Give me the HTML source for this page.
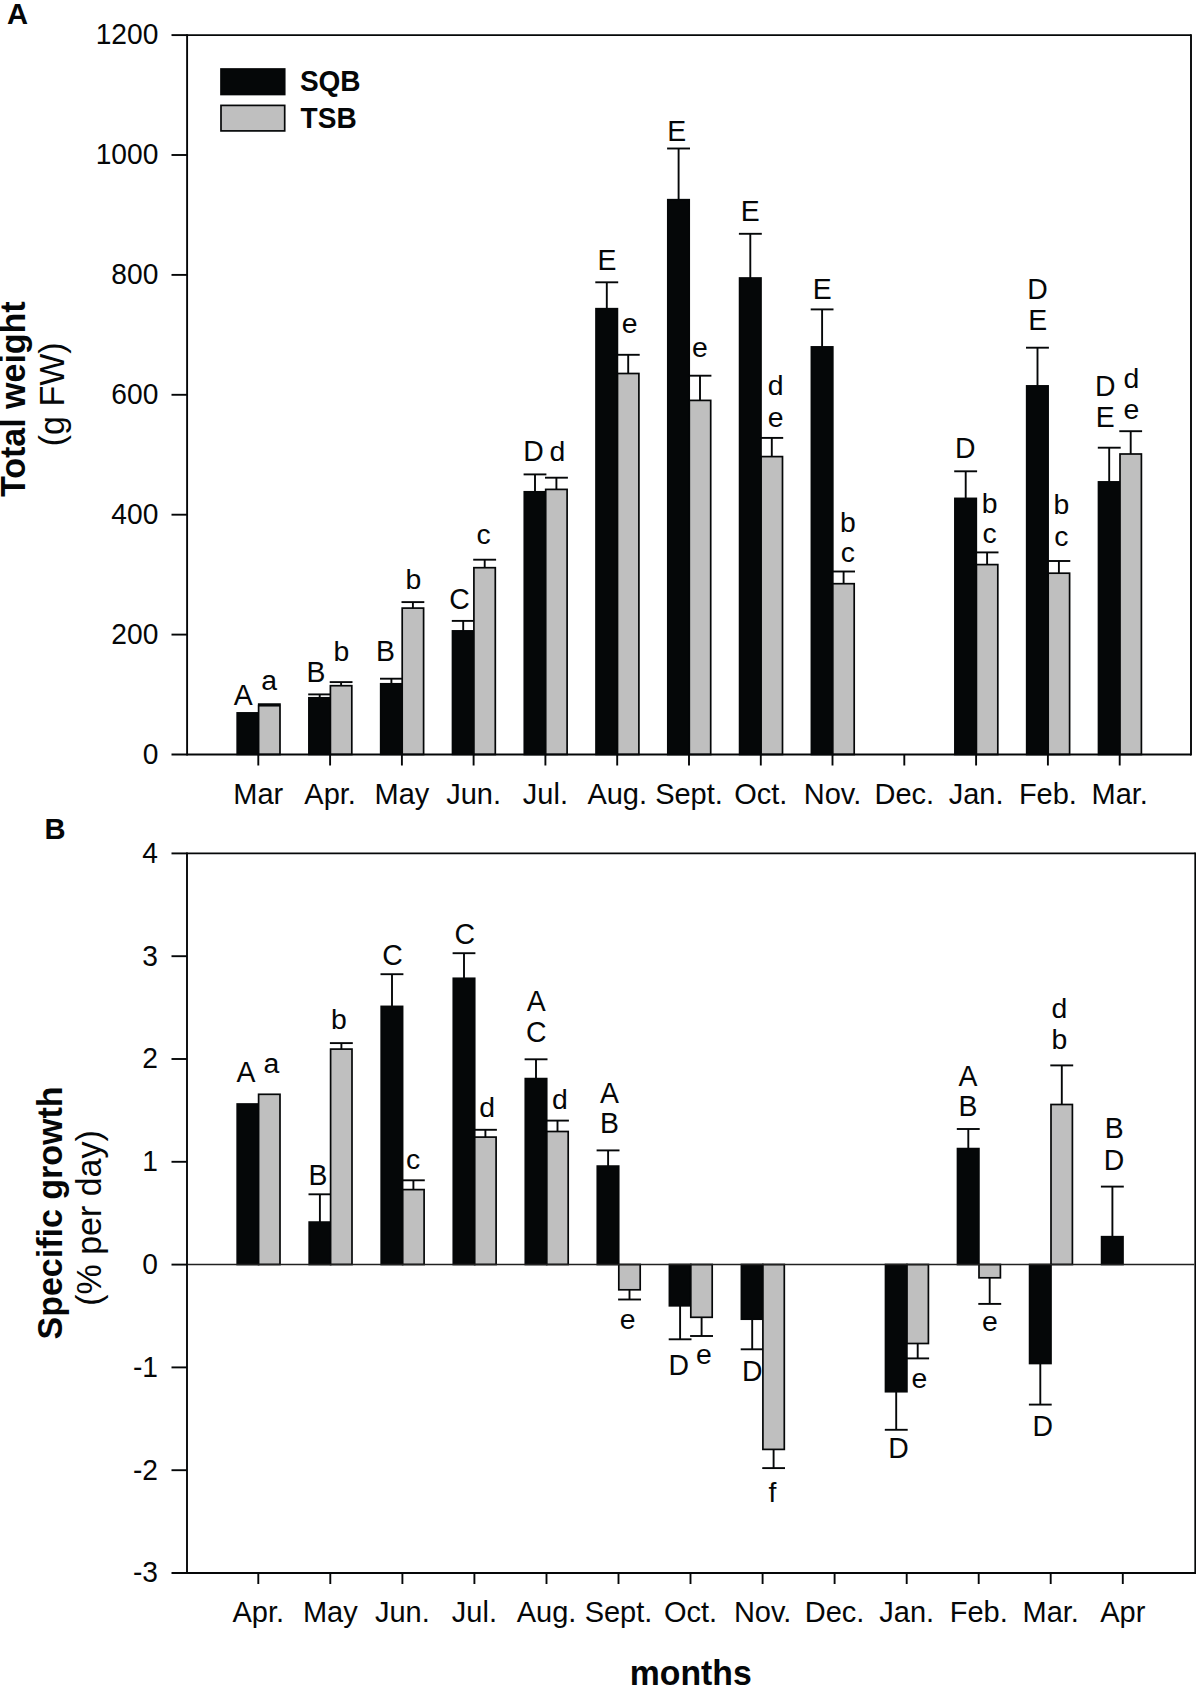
<!DOCTYPE html>
<html><head><meta charset="utf-8"><title>Figure</title>
<style>html,body{margin:0;padding:0;background:#fff}svg{display:block}text{font-family:"Liberation Sans",Arial,Helvetica,sans-serif;fill:#050708}</style>
</head><body>
<svg width="1196" height="1686" viewBox="0 0 1196 1686">
<rect x="0" y="0" width="1196" height="1686" fill="#ffffff"/>
<rect x="237.2" y="712.9" width="21.4" height="41.5" fill="#050708" stroke="#050708" stroke-width="1.7"/>
<line x1="269.3" y1="705.7" x2="269.3" y2="704.2" stroke="#050708" stroke-width="1.9"/>
<line x1="257.9" y1="704.2" x2="280.8" y2="704.2" stroke="#050708" stroke-width="1.9"/>
<rect x="258.6" y="705.7" width="21.4" height="48.8" fill="#bfbfbf" stroke="#050708" stroke-width="1.7"/>
<line x1="319.7" y1="697.8" x2="319.7" y2="694.4" stroke="#050708" stroke-width="1.9"/>
<line x1="308.2" y1="694.4" x2="331.1" y2="694.4" stroke="#050708" stroke-width="1.9"/>
<rect x="308.9" y="697.8" width="21.4" height="56.6" fill="#050708" stroke="#050708" stroke-width="1.7"/>
<line x1="341.1" y1="685.7" x2="341.1" y2="682.1" stroke="#050708" stroke-width="1.9"/>
<line x1="329.7" y1="682.1" x2="352.5" y2="682.1" stroke="#050708" stroke-width="1.9"/>
<rect x="330.4" y="685.7" width="21.4" height="68.8" fill="#bfbfbf" stroke="#050708" stroke-width="1.7"/>
<line x1="391.4" y1="683.8" x2="391.4" y2="678.7" stroke="#050708" stroke-width="1.9"/>
<line x1="380.0" y1="678.7" x2="402.9" y2="678.7" stroke="#050708" stroke-width="1.9"/>
<rect x="380.7" y="683.8" width="21.4" height="70.6" fill="#050708" stroke="#050708" stroke-width="1.7"/>
<line x1="412.9" y1="608.1" x2="412.9" y2="602.1" stroke="#050708" stroke-width="1.9"/>
<line x1="401.5" y1="602.1" x2="424.3" y2="602.1" stroke="#050708" stroke-width="1.9"/>
<rect x="402.2" y="608.1" width="21.4" height="146.4" fill="#bfbfbf" stroke="#050708" stroke-width="1.7"/>
<line x1="463.2" y1="630.9" x2="463.2" y2="620.9" stroke="#050708" stroke-width="1.9"/>
<line x1="451.8" y1="620.9" x2="474.6" y2="620.9" stroke="#050708" stroke-width="1.9"/>
<rect x="452.5" y="630.9" width="21.4" height="123.5" fill="#050708" stroke="#050708" stroke-width="1.7"/>
<line x1="484.7" y1="567.7" x2="484.7" y2="559.7" stroke="#050708" stroke-width="1.9"/>
<line x1="473.2" y1="559.7" x2="496.1" y2="559.7" stroke="#050708" stroke-width="1.9"/>
<rect x="473.9" y="567.7" width="21.4" height="186.8" fill="#bfbfbf" stroke="#050708" stroke-width="1.7"/>
<line x1="535.0" y1="491.8" x2="535.0" y2="474.4" stroke="#050708" stroke-width="1.9"/>
<line x1="523.6" y1="474.4" x2="546.4" y2="474.4" stroke="#050708" stroke-width="1.9"/>
<rect x="524.3" y="491.8" width="21.4" height="262.7" fill="#050708" stroke="#050708" stroke-width="1.7"/>
<line x1="556.4" y1="489.4" x2="556.4" y2="477.7" stroke="#050708" stroke-width="1.9"/>
<line x1="545.0" y1="477.7" x2="567.9" y2="477.7" stroke="#050708" stroke-width="1.9"/>
<rect x="545.7" y="489.4" width="21.4" height="265.1" fill="#bfbfbf" stroke="#050708" stroke-width="1.7"/>
<line x1="606.8" y1="308.7" x2="606.8" y2="282.3" stroke="#050708" stroke-width="1.9"/>
<line x1="595.3" y1="282.3" x2="618.2" y2="282.3" stroke="#050708" stroke-width="1.9"/>
<rect x="596.0" y="308.7" width="21.4" height="445.8" fill="#050708" stroke="#050708" stroke-width="1.7"/>
<line x1="628.2" y1="373.5" x2="628.2" y2="354.8" stroke="#050708" stroke-width="1.9"/>
<line x1="616.8" y1="354.8" x2="639.7" y2="354.8" stroke="#050708" stroke-width="1.9"/>
<rect x="617.5" y="373.5" width="21.4" height="381.0" fill="#bfbfbf" stroke="#050708" stroke-width="1.7"/>
<line x1="678.6" y1="199.7" x2="678.6" y2="148.5" stroke="#050708" stroke-width="1.9"/>
<line x1="667.1" y1="148.5" x2="690.0" y2="148.5" stroke="#050708" stroke-width="1.9"/>
<rect x="667.8" y="199.7" width="21.4" height="554.8" fill="#050708" stroke="#050708" stroke-width="1.7"/>
<line x1="700.0" y1="400.4" x2="700.0" y2="375.7" stroke="#050708" stroke-width="1.9"/>
<line x1="688.6" y1="375.7" x2="711.4" y2="375.7" stroke="#050708" stroke-width="1.9"/>
<rect x="689.3" y="400.4" width="21.4" height="354.1" fill="#bfbfbf" stroke="#050708" stroke-width="1.7"/>
<line x1="750.3" y1="278.0" x2="750.3" y2="233.8" stroke="#050708" stroke-width="1.9"/>
<line x1="738.9" y1="233.8" x2="761.8" y2="233.8" stroke="#050708" stroke-width="1.9"/>
<rect x="739.6" y="278.0" width="21.4" height="476.5" fill="#050708" stroke="#050708" stroke-width="1.7"/>
<line x1="771.8" y1="456.6" x2="771.8" y2="437.9" stroke="#050708" stroke-width="1.9"/>
<line x1="760.4" y1="437.9" x2="783.2" y2="437.9" stroke="#050708" stroke-width="1.9"/>
<rect x="761.1" y="456.6" width="21.4" height="297.9" fill="#bfbfbf" stroke="#050708" stroke-width="1.7"/>
<line x1="822.1" y1="346.9" x2="822.1" y2="309.4" stroke="#050708" stroke-width="1.9"/>
<line x1="810.7" y1="309.4" x2="833.5" y2="309.4" stroke="#050708" stroke-width="1.9"/>
<rect x="811.4" y="346.9" width="21.4" height="407.6" fill="#050708" stroke="#050708" stroke-width="1.7"/>
<line x1="843.6" y1="583.7" x2="843.6" y2="571.5" stroke="#050708" stroke-width="1.9"/>
<line x1="832.1" y1="571.5" x2="855.0" y2="571.5" stroke="#050708" stroke-width="1.9"/>
<rect x="832.8" y="583.7" width="21.4" height="170.8" fill="#bfbfbf" stroke="#050708" stroke-width="1.7"/>
<line x1="965.7" y1="498.4" x2="965.7" y2="471.3" stroke="#050708" stroke-width="1.9"/>
<line x1="954.2" y1="471.3" x2="977.1" y2="471.3" stroke="#050708" stroke-width="1.9"/>
<rect x="954.9" y="498.4" width="21.4" height="256.1" fill="#050708" stroke="#050708" stroke-width="1.7"/>
<line x1="987.1" y1="564.6" x2="987.1" y2="552.4" stroke="#050708" stroke-width="1.9"/>
<line x1="975.7" y1="552.4" x2="998.5" y2="552.4" stroke="#050708" stroke-width="1.9"/>
<rect x="976.4" y="564.6" width="21.4" height="189.9" fill="#bfbfbf" stroke="#050708" stroke-width="1.7"/>
<line x1="1037.5" y1="385.9" x2="1037.5" y2="347.7" stroke="#050708" stroke-width="1.9"/>
<line x1="1026.0" y1="347.7" x2="1048.9" y2="347.7" stroke="#050708" stroke-width="1.9"/>
<rect x="1026.7" y="385.9" width="21.4" height="368.6" fill="#050708" stroke="#050708" stroke-width="1.7"/>
<line x1="1058.9" y1="573.2" x2="1058.9" y2="561.0" stroke="#050708" stroke-width="1.9"/>
<line x1="1047.5" y1="561.0" x2="1070.3" y2="561.0" stroke="#050708" stroke-width="1.9"/>
<rect x="1048.2" y="573.2" width="21.4" height="181.3" fill="#bfbfbf" stroke="#050708" stroke-width="1.7"/>
<line x1="1109.2" y1="481.9" x2="1109.2" y2="447.7" stroke="#050708" stroke-width="1.9"/>
<line x1="1097.8" y1="447.7" x2="1120.7" y2="447.7" stroke="#050708" stroke-width="1.9"/>
<rect x="1098.5" y="481.9" width="21.4" height="272.6" fill="#050708" stroke="#050708" stroke-width="1.7"/>
<line x1="1130.7" y1="454.0" x2="1130.7" y2="431.2" stroke="#050708" stroke-width="1.9"/>
<line x1="1119.3" y1="431.2" x2="1142.1" y2="431.2" stroke="#050708" stroke-width="1.9"/>
<rect x="1120.0" y="454.0" width="21.4" height="300.5" fill="#bfbfbf" stroke="#050708" stroke-width="1.7"/>
<line x1="187.1" y1="34.2" x2="187.1" y2="755.4" stroke="#050708" stroke-width="1.9"/>
<line x1="187.1" y1="35.1" x2="1191.0" y2="35.1" stroke="#050708" stroke-width="1.9"/>
<line x1="1191.0" y1="34.2" x2="1191.0" y2="755.4" stroke="#050708" stroke-width="1.9"/>
<line x1="171.5" y1="754.5" x2="1191.0" y2="754.5" stroke="#050708" stroke-width="1.9"/>
<text transform="translate(158.3 763.8) scale(0.955 1)" font-size="29.5" text-anchor="end">0</text>
<line x1="171.5" y1="634.6" x2="187.1" y2="634.6" stroke="#050708" stroke-width="1.9"/>
<text transform="translate(158.3 643.9) scale(0.955 1)" font-size="29.5" text-anchor="end">200</text>
<line x1="171.5" y1="514.7" x2="187.1" y2="514.7" stroke="#050708" stroke-width="1.9"/>
<text transform="translate(158.3 524.0) scale(0.955 1)" font-size="29.5" text-anchor="end">400</text>
<line x1="171.5" y1="394.8" x2="187.1" y2="394.8" stroke="#050708" stroke-width="1.9"/>
<text transform="translate(158.3 404.1) scale(0.955 1)" font-size="29.5" text-anchor="end">600</text>
<line x1="171.5" y1="274.9" x2="187.1" y2="274.9" stroke="#050708" stroke-width="1.9"/>
<text transform="translate(158.3 284.2) scale(0.955 1)" font-size="29.5" text-anchor="end">800</text>
<line x1="171.5" y1="155.0" x2="187.1" y2="155.0" stroke="#050708" stroke-width="1.9"/>
<text transform="translate(158.3 164.3) scale(0.955 1)" font-size="29.5" text-anchor="end">1000</text>
<line x1="171.5" y1="35.1" x2="187.1" y2="35.1" stroke="#050708" stroke-width="1.9"/>
<text transform="translate(158.3 44.4) scale(0.955 1)" font-size="29.5" text-anchor="end">1200</text>
<line x1="258.3" y1="754.5" x2="258.3" y2="765.5" stroke="#050708" stroke-width="1.9"/>
<text transform="translate(258.3 803.6) scale(0.96 1)" font-size="30.2" text-anchor="middle">Mar</text>
<line x1="330.1" y1="754.5" x2="330.1" y2="765.5" stroke="#050708" stroke-width="1.9"/>
<text transform="translate(330.1 803.6) scale(0.96 1)" font-size="30.2" text-anchor="middle">Apr.</text>
<line x1="401.9" y1="754.5" x2="401.9" y2="765.5" stroke="#050708" stroke-width="1.9"/>
<text transform="translate(401.9 803.6) scale(0.96 1)" font-size="30.2" text-anchor="middle">May</text>
<line x1="473.6" y1="754.5" x2="473.6" y2="765.5" stroke="#050708" stroke-width="1.9"/>
<text transform="translate(473.6 803.6) scale(0.96 1)" font-size="30.2" text-anchor="middle">Jun.</text>
<line x1="545.4" y1="754.5" x2="545.4" y2="765.5" stroke="#050708" stroke-width="1.9"/>
<text transform="translate(545.4 803.6) scale(0.96 1)" font-size="30.2" text-anchor="middle">Jul.</text>
<line x1="617.2" y1="754.5" x2="617.2" y2="765.5" stroke="#050708" stroke-width="1.9"/>
<text transform="translate(617.2 803.6) scale(0.96 1)" font-size="30.2" text-anchor="middle">Aug.</text>
<line x1="689.0" y1="754.5" x2="689.0" y2="765.5" stroke="#050708" stroke-width="1.9"/>
<text transform="translate(689.0 803.6) scale(0.96 1)" font-size="30.2" text-anchor="middle">Sept.</text>
<line x1="760.8" y1="754.5" x2="760.8" y2="765.5" stroke="#050708" stroke-width="1.9"/>
<text transform="translate(760.8 803.6) scale(0.96 1)" font-size="30.2" text-anchor="middle">Oct.</text>
<line x1="832.5" y1="754.5" x2="832.5" y2="765.5" stroke="#050708" stroke-width="1.9"/>
<text transform="translate(832.5 803.6) scale(0.96 1)" font-size="30.2" text-anchor="middle">Nov.</text>
<line x1="904.3" y1="754.5" x2="904.3" y2="765.5" stroke="#050708" stroke-width="1.9"/>
<text transform="translate(904.3 803.6) scale(0.96 1)" font-size="30.2" text-anchor="middle">Dec.</text>
<line x1="976.1" y1="754.5" x2="976.1" y2="765.5" stroke="#050708" stroke-width="1.9"/>
<text transform="translate(976.1 803.6) scale(0.96 1)" font-size="30.2" text-anchor="middle">Jan.</text>
<line x1="1047.9" y1="754.5" x2="1047.9" y2="765.5" stroke="#050708" stroke-width="1.9"/>
<text transform="translate(1047.9 803.6) scale(0.96 1)" font-size="30.2" text-anchor="middle">Feb.</text>
<line x1="1119.7" y1="754.5" x2="1119.7" y2="765.5" stroke="#050708" stroke-width="1.9"/>
<text transform="translate(1119.7 803.6) scale(0.96 1)" font-size="30.2" text-anchor="middle">Mar.</text>
<text transform="translate(243.1 704.8) scale(0.96 1)" font-size="29.6" text-anchor="middle">A</text>
<text x="269.2" y="690.4" font-size="28.4" text-anchor="middle">a</text>
<text transform="translate(316.0 682.0) scale(0.96 1)" font-size="29.6" text-anchor="middle">B</text>
<text x="341.5" y="661.0" font-size="28.4" text-anchor="middle">b</text>
<text transform="translate(385.4 660.5) scale(0.96 1)" font-size="29.6" text-anchor="middle">B</text>
<text x="413.5" y="589.0" font-size="28.4" text-anchor="middle">b</text>
<text transform="translate(459.4 608.6) scale(0.96 1)" font-size="29.6" text-anchor="middle">C</text>
<text x="483.5" y="543.9" font-size="28.4" text-anchor="middle">c</text>
<text transform="translate(533.5 461.0) scale(0.96 1)" font-size="29.6" text-anchor="middle">D</text>
<text x="557.3" y="461.0" font-size="28.4" text-anchor="middle">d</text>
<text transform="translate(606.9 269.9) scale(0.96 1)" font-size="29.6" text-anchor="middle">E</text>
<text x="629.6" y="333.4" font-size="28.4" text-anchor="middle">e</text>
<text transform="translate(676.7 140.8) scale(0.96 1)" font-size="29.6" text-anchor="middle">E</text>
<text x="699.8" y="356.9" font-size="28.4" text-anchor="middle">e</text>
<text transform="translate(750.3 221.2) scale(0.96 1)" font-size="29.6" text-anchor="middle">E</text>
<text x="775.6" y="395.1" font-size="28.4" text-anchor="middle">d</text>
<text x="775.6" y="426.9" font-size="28.4" text-anchor="middle">e</text>
<text transform="translate(822.2 298.7) scale(0.96 1)" font-size="29.6" text-anchor="middle">E</text>
<text x="847.9" y="531.8" font-size="28.4" text-anchor="middle">b</text>
<text x="847.9" y="562.3" font-size="28.4" text-anchor="middle">c</text>
<text transform="translate(965.2 458.0) scale(0.96 1)" font-size="29.6" text-anchor="middle">D</text>
<text x="989.7" y="512.6" font-size="28.4" text-anchor="middle">b</text>
<text x="989.7" y="543.2" font-size="28.4" text-anchor="middle">c</text>
<text transform="translate(1037.6 299.1) scale(0.96 1)" font-size="29.6" text-anchor="middle">D</text>
<text transform="translate(1037.6 330.2) scale(0.96 1)" font-size="29.6" text-anchor="middle">E</text>
<text x="1061.3" y="514.3" font-size="28.4" text-anchor="middle">b</text>
<text x="1061.3" y="546.0" font-size="28.4" text-anchor="middle">c</text>
<text transform="translate(1105.3 395.8) scale(0.96 1)" font-size="29.6" text-anchor="middle">D</text>
<text transform="translate(1105.3 426.6) scale(0.96 1)" font-size="29.6" text-anchor="middle">E</text>
<text x="1131.5" y="387.5" font-size="28.4" text-anchor="middle">d</text>
<text x="1131.5" y="418.9" font-size="28.4" text-anchor="middle">e</text>
<rect x="221.0" y="69.0" width="63.7" height="25.5" fill="#050708" stroke="#050708" stroke-width="1.7"/>
<rect x="221.0" y="105.4" width="63.7" height="25.5" fill="#bfbfbf" stroke="#050708" stroke-width="1.7"/>
<text transform="translate(299.9 90.6) scale(0.943 1)" font-size="29.7" text-anchor="start" font-weight="bold">SQB</text>
<text transform="translate(300.6 128.2) scale(0.943 1)" font-size="29.7" text-anchor="start" font-weight="bold">TSB</text>
<text transform="translate(25.1 399.2) rotate(-90) scale(1 1.045)" font-size="34" text-anchor="middle" font-weight="bold">Total weight</text>
<text transform="translate(63.5 394.3) rotate(-90) scale(1 1.045)" font-size="34" text-anchor="middle">(g FW)</text>
<text transform="translate(6.9 24.2) scale(0.96 1)" font-size="30.4" text-anchor="start" font-weight="bold">A</text>
<rect x="237.2" y="1104.0" width="21.4" height="160.5" fill="#050708" stroke="#050708" stroke-width="1.7"/>
<rect x="258.6" y="1094.3" width="21.4" height="170.2" fill="#bfbfbf" stroke="#050708" stroke-width="1.7"/>
<line x1="319.9" y1="1222.1" x2="319.9" y2="1194.3" stroke="#050708" stroke-width="1.9"/>
<line x1="308.5" y1="1194.3" x2="331.3" y2="1194.3" stroke="#050708" stroke-width="1.9"/>
<rect x="309.2" y="1222.1" width="21.4" height="42.4" fill="#050708" stroke="#050708" stroke-width="1.7"/>
<line x1="341.4" y1="1049.1" x2="341.4" y2="1043.1" stroke="#050708" stroke-width="1.9"/>
<line x1="329.9" y1="1043.1" x2="352.8" y2="1043.1" stroke="#050708" stroke-width="1.9"/>
<rect x="330.6" y="1049.1" width="21.4" height="215.4" fill="#bfbfbf" stroke="#050708" stroke-width="1.7"/>
<line x1="392.0" y1="1006.4" x2="392.0" y2="974.2" stroke="#050708" stroke-width="1.9"/>
<line x1="380.5" y1="974.2" x2="403.4" y2="974.2" stroke="#050708" stroke-width="1.9"/>
<rect x="381.2" y="1006.4" width="21.4" height="258.1" fill="#050708" stroke="#050708" stroke-width="1.7"/>
<line x1="413.4" y1="1189.6" x2="413.4" y2="1180.3" stroke="#050708" stroke-width="1.9"/>
<line x1="402.0" y1="1180.3" x2="424.8" y2="1180.3" stroke="#050708" stroke-width="1.9"/>
<rect x="402.7" y="1189.6" width="21.4" height="74.9" fill="#bfbfbf" stroke="#050708" stroke-width="1.7"/>
<line x1="464.0" y1="978.3" x2="464.0" y2="953.2" stroke="#050708" stroke-width="1.9"/>
<line x1="452.6" y1="953.2" x2="475.4" y2="953.2" stroke="#050708" stroke-width="1.9"/>
<rect x="453.3" y="978.3" width="21.4" height="286.2" fill="#050708" stroke="#050708" stroke-width="1.7"/>
<line x1="485.4" y1="1137.1" x2="485.4" y2="1129.8" stroke="#050708" stroke-width="1.9"/>
<line x1="474.0" y1="1129.8" x2="496.9" y2="1129.8" stroke="#050708" stroke-width="1.9"/>
<rect x="474.7" y="1137.1" width="21.4" height="127.4" fill="#bfbfbf" stroke="#050708" stroke-width="1.7"/>
<line x1="536.0" y1="1078.6" x2="536.0" y2="1059.3" stroke="#050708" stroke-width="1.9"/>
<line x1="524.6" y1="1059.3" x2="547.5" y2="1059.3" stroke="#050708" stroke-width="1.9"/>
<rect x="525.3" y="1078.6" width="21.4" height="185.9" fill="#050708" stroke="#050708" stroke-width="1.7"/>
<line x1="557.5" y1="1131.5" x2="557.5" y2="1120.6" stroke="#050708" stroke-width="1.9"/>
<line x1="546.1" y1="1120.6" x2="568.9" y2="1120.6" stroke="#050708" stroke-width="1.9"/>
<rect x="546.8" y="1131.5" width="21.4" height="133.0" fill="#bfbfbf" stroke="#050708" stroke-width="1.7"/>
<line x1="608.1" y1="1166.1" x2="608.1" y2="1150.4" stroke="#050708" stroke-width="1.9"/>
<line x1="596.6" y1="1150.4" x2="619.5" y2="1150.4" stroke="#050708" stroke-width="1.9"/>
<rect x="597.3" y="1166.1" width="21.4" height="98.4" fill="#050708" stroke="#050708" stroke-width="1.7"/>
<line x1="629.5" y1="1289.8" x2="629.5" y2="1299.5" stroke="#050708" stroke-width="1.9"/>
<line x1="618.1" y1="1299.5" x2="641.0" y2="1299.5" stroke="#050708" stroke-width="1.9"/>
<rect x="618.8" y="1264.5" width="21.4" height="25.3" fill="#bfbfbf" stroke="#050708" stroke-width="1.7"/>
<line x1="680.1" y1="1305.8" x2="680.1" y2="1339.3" stroke="#050708" stroke-width="1.9"/>
<line x1="668.7" y1="1339.3" x2="691.5" y2="1339.3" stroke="#050708" stroke-width="1.9"/>
<rect x="669.4" y="1264.5" width="21.4" height="41.3" fill="#050708" stroke="#050708" stroke-width="1.7"/>
<line x1="701.6" y1="1317.3" x2="701.6" y2="1336.0" stroke="#050708" stroke-width="1.9"/>
<line x1="690.1" y1="1336.0" x2="713.0" y2="1336.0" stroke="#050708" stroke-width="1.9"/>
<rect x="690.8" y="1264.5" width="21.4" height="52.8" fill="#bfbfbf" stroke="#050708" stroke-width="1.7"/>
<line x1="752.2" y1="1319.2" x2="752.2" y2="1349.3" stroke="#050708" stroke-width="1.9"/>
<line x1="740.7" y1="1349.3" x2="763.6" y2="1349.3" stroke="#050708" stroke-width="1.9"/>
<rect x="741.4" y="1264.5" width="21.4" height="54.7" fill="#050708" stroke="#050708" stroke-width="1.7"/>
<line x1="773.6" y1="1449.4" x2="773.6" y2="1468.1" stroke="#050708" stroke-width="1.9"/>
<line x1="762.2" y1="1468.1" x2="785.0" y2="1468.1" stroke="#050708" stroke-width="1.9"/>
<rect x="762.9" y="1264.5" width="21.4" height="184.9" fill="#bfbfbf" stroke="#050708" stroke-width="1.7"/>
<line x1="896.2" y1="1391.7" x2="896.2" y2="1429.8" stroke="#050708" stroke-width="1.9"/>
<line x1="884.8" y1="1429.8" x2="907.7" y2="1429.8" stroke="#050708" stroke-width="1.9"/>
<rect x="885.5" y="1264.5" width="21.4" height="127.2" fill="#050708" stroke="#050708" stroke-width="1.7"/>
<line x1="917.7" y1="1343.5" x2="917.7" y2="1358.4" stroke="#050708" stroke-width="1.9"/>
<line x1="906.3" y1="1358.4" x2="929.1" y2="1358.4" stroke="#050708" stroke-width="1.9"/>
<rect x="907.0" y="1264.5" width="21.4" height="79.0" fill="#bfbfbf" stroke="#050708" stroke-width="1.7"/>
<line x1="968.3" y1="1148.6" x2="968.3" y2="1129.0" stroke="#050708" stroke-width="1.9"/>
<line x1="956.8" y1="1129.0" x2="979.7" y2="1129.0" stroke="#050708" stroke-width="1.9"/>
<rect x="957.5" y="1148.6" width="21.4" height="115.9" fill="#050708" stroke="#050708" stroke-width="1.7"/>
<line x1="989.7" y1="1277.8" x2="989.7" y2="1303.9" stroke="#050708" stroke-width="1.9"/>
<line x1="978.3" y1="1303.9" x2="1001.2" y2="1303.9" stroke="#050708" stroke-width="1.9"/>
<rect x="979.0" y="1264.5" width="21.4" height="13.3" fill="#bfbfbf" stroke="#050708" stroke-width="1.7"/>
<line x1="1040.3" y1="1363.5" x2="1040.3" y2="1404.6" stroke="#050708" stroke-width="1.9"/>
<line x1="1028.9" y1="1404.6" x2="1051.7" y2="1404.6" stroke="#050708" stroke-width="1.9"/>
<rect x="1029.6" y="1264.5" width="21.4" height="99.0" fill="#050708" stroke="#050708" stroke-width="1.7"/>
<line x1="1061.8" y1="1104.5" x2="1061.8" y2="1065.4" stroke="#050708" stroke-width="1.9"/>
<line x1="1050.3" y1="1065.4" x2="1073.2" y2="1065.4" stroke="#050708" stroke-width="1.9"/>
<rect x="1051.0" y="1104.5" width="21.4" height="160.0" fill="#bfbfbf" stroke="#050708" stroke-width="1.7"/>
<line x1="1112.4" y1="1236.7" x2="1112.4" y2="1186.6" stroke="#050708" stroke-width="1.9"/>
<line x1="1100.9" y1="1186.6" x2="1123.8" y2="1186.6" stroke="#050708" stroke-width="1.9"/>
<rect x="1101.6" y="1236.7" width="21.4" height="27.8" fill="#050708" stroke="#050708" stroke-width="1.7"/>
<line x1="187.0" y1="852.5" x2="187.0" y2="1573.9" stroke="#050708" stroke-width="1.9"/>
<line x1="187.0" y1="853.4" x2="1195.3" y2="853.4" stroke="#050708" stroke-width="1.9"/>
<line x1="1195.3" y1="852.5" x2="1195.3" y2="1573.9" stroke="#050708" stroke-width="1.9"/>
<line x1="171.5" y1="1573.0" x2="1195.3" y2="1573.0" stroke="#050708" stroke-width="1.9"/>
<line x1="188.0" y1="1264.5" x2="1194.3" y2="1264.5" stroke="#222" stroke-width="1.3"/>
<line x1="171.5" y1="853.4" x2="187.0" y2="853.4" stroke="#050708" stroke-width="1.9"/>
<text transform="translate(158.0 862.7) scale(0.955 1)" font-size="29.5" text-anchor="end">4</text>
<line x1="171.5" y1="956.2" x2="187.0" y2="956.2" stroke="#050708" stroke-width="1.9"/>
<text transform="translate(158.0 965.5) scale(0.955 1)" font-size="29.5" text-anchor="end">3</text>
<line x1="171.5" y1="1059.0" x2="187.0" y2="1059.0" stroke="#050708" stroke-width="1.9"/>
<text transform="translate(158.0 1068.3) scale(0.955 1)" font-size="29.5" text-anchor="end">2</text>
<line x1="171.5" y1="1161.8" x2="187.0" y2="1161.8" stroke="#050708" stroke-width="1.9"/>
<text transform="translate(158.0 1171.1) scale(0.955 1)" font-size="29.5" text-anchor="end">1</text>
<line x1="171.5" y1="1264.6" x2="187.0" y2="1264.6" stroke="#050708" stroke-width="1.9"/>
<text transform="translate(158.0 1273.9) scale(0.955 1)" font-size="29.5" text-anchor="end">0</text>
<line x1="171.5" y1="1367.4" x2="187.0" y2="1367.4" stroke="#050708" stroke-width="1.9"/>
<text transform="translate(158.0 1376.7) scale(0.955 1)" font-size="29.5" text-anchor="end">-1</text>
<line x1="171.5" y1="1470.2" x2="187.0" y2="1470.2" stroke="#050708" stroke-width="1.9"/>
<text transform="translate(158.0 1479.5) scale(0.955 1)" font-size="29.5" text-anchor="end">-2</text>
<text transform="translate(158.0 1582.3) scale(0.955 1)" font-size="29.5" text-anchor="end">-3</text>
<line x1="258.3" y1="1573.0" x2="258.3" y2="1584.0" stroke="#050708" stroke-width="1.9"/>
<text transform="translate(258.3 1622.2) scale(0.96 1)" font-size="30.2" text-anchor="middle">Apr.</text>
<line x1="330.3" y1="1573.0" x2="330.3" y2="1584.0" stroke="#050708" stroke-width="1.9"/>
<text transform="translate(330.3 1622.2) scale(0.96 1)" font-size="30.2" text-anchor="middle">May</text>
<line x1="402.4" y1="1573.0" x2="402.4" y2="1584.0" stroke="#050708" stroke-width="1.9"/>
<text transform="translate(402.4 1622.2) scale(0.96 1)" font-size="30.2" text-anchor="middle">Jun.</text>
<line x1="474.4" y1="1573.0" x2="474.4" y2="1584.0" stroke="#050708" stroke-width="1.9"/>
<text transform="translate(474.4 1622.2) scale(0.96 1)" font-size="30.2" text-anchor="middle">Jul.</text>
<line x1="546.5" y1="1573.0" x2="546.5" y2="1584.0" stroke="#050708" stroke-width="1.9"/>
<text transform="translate(546.5 1622.2) scale(0.96 1)" font-size="30.2" text-anchor="middle">Aug.</text>
<line x1="618.5" y1="1573.0" x2="618.5" y2="1584.0" stroke="#050708" stroke-width="1.9"/>
<text transform="translate(618.5 1622.2) scale(0.96 1)" font-size="30.2" text-anchor="middle">Sept.</text>
<line x1="690.5" y1="1573.0" x2="690.5" y2="1584.0" stroke="#050708" stroke-width="1.9"/>
<text transform="translate(690.5 1622.2) scale(0.96 1)" font-size="30.2" text-anchor="middle">Oct.</text>
<line x1="762.6" y1="1573.0" x2="762.6" y2="1584.0" stroke="#050708" stroke-width="1.9"/>
<text transform="translate(762.6 1622.2) scale(0.96 1)" font-size="30.2" text-anchor="middle">Nov.</text>
<line x1="834.6" y1="1573.0" x2="834.6" y2="1584.0" stroke="#050708" stroke-width="1.9"/>
<text transform="translate(834.6 1622.2) scale(0.96 1)" font-size="30.2" text-anchor="middle">Dec.</text>
<line x1="906.7" y1="1573.0" x2="906.7" y2="1584.0" stroke="#050708" stroke-width="1.9"/>
<text transform="translate(906.7 1622.2) scale(0.96 1)" font-size="30.2" text-anchor="middle">Jan.</text>
<line x1="978.7" y1="1573.0" x2="978.7" y2="1584.0" stroke="#050708" stroke-width="1.9"/>
<text transform="translate(978.7 1622.2) scale(0.96 1)" font-size="30.2" text-anchor="middle">Feb.</text>
<line x1="1050.7" y1="1573.0" x2="1050.7" y2="1584.0" stroke="#050708" stroke-width="1.9"/>
<text transform="translate(1050.7 1622.2) scale(0.96 1)" font-size="30.2" text-anchor="middle">Mar.</text>
<line x1="1122.8" y1="1573.0" x2="1122.8" y2="1584.0" stroke="#050708" stroke-width="1.9"/>
<text transform="translate(1122.8 1622.2) scale(0.96 1)" font-size="30.2" text-anchor="middle">Apr</text>
<text transform="translate(246.0 1081.6) scale(0.96 1)" font-size="29.6" text-anchor="middle">A</text>
<text x="271.4" y="1072.9" font-size="28.4" text-anchor="middle">a</text>
<text transform="translate(317.9 1185.2) scale(0.96 1)" font-size="29.6" text-anchor="middle">B</text>
<text x="339.0" y="1028.8" font-size="28.4" text-anchor="middle">b</text>
<text transform="translate(392.5 964.5) scale(0.96 1)" font-size="29.6" text-anchor="middle">C</text>
<text x="413.2" y="1168.8" font-size="28.4" text-anchor="middle">c</text>
<text transform="translate(464.7 943.8) scale(0.96 1)" font-size="29.6" text-anchor="middle">C</text>
<text x="487.1" y="1117.4" font-size="28.4" text-anchor="middle">d</text>
<text transform="translate(536.3 1011.0) scale(0.96 1)" font-size="29.6" text-anchor="middle">A</text>
<text transform="translate(536.3 1042.1) scale(0.96 1)" font-size="29.6" text-anchor="middle">C</text>
<text x="559.9" y="1108.6" font-size="28.4" text-anchor="middle">d</text>
<text transform="translate(609.4 1102.9) scale(0.96 1)" font-size="29.6" text-anchor="middle">A</text>
<text transform="translate(609.4 1132.6) scale(0.96 1)" font-size="29.6" text-anchor="middle">B</text>
<text x="627.6" y="1329.3" font-size="28.4" text-anchor="middle">e</text>
<text transform="translate(678.8 1375.4) scale(0.96 1)" font-size="29.6" text-anchor="middle">D</text>
<text x="703.8" y="1363.7" font-size="28.4" text-anchor="middle">e</text>
<text transform="translate(752.3 1381.4) scale(0.96 1)" font-size="29.6" text-anchor="middle">D</text>
<text x="772.4" y="1501.8" font-size="28.4" text-anchor="middle">f</text>
<text transform="translate(898.6 1458.0) scale(0.96 1)" font-size="29.6" text-anchor="middle">D</text>
<text x="919.4" y="1387.9" font-size="28.4" text-anchor="middle">e</text>
<text transform="translate(967.9 1086.0) scale(0.96 1)" font-size="29.6" text-anchor="middle">A</text>
<text transform="translate(967.9 1116.4) scale(0.96 1)" font-size="29.6" text-anchor="middle">B</text>
<text x="989.8" y="1331.1" font-size="28.4" text-anchor="middle">e</text>
<text transform="translate(1042.7 1436.4) scale(0.96 1)" font-size="29.6" text-anchor="middle">D</text>
<text x="1059.3" y="1017.7" font-size="28.4" text-anchor="middle">d</text>
<text x="1059.3" y="1048.9" font-size="28.4" text-anchor="middle">b</text>
<text transform="translate(1114.1 1138.3) scale(0.96 1)" font-size="29.6" text-anchor="middle">B</text>
<text transform="translate(1114.1 1169.7) scale(0.96 1)" font-size="29.6" text-anchor="middle">D</text>
<text transform="translate(61.9 1213.0) rotate(-90) scale(1 1.045)" font-size="34" text-anchor="middle" font-weight="bold">Specific growth</text>
<text transform="translate(100.5 1218.0) rotate(-90) scale(1 1.045)" font-size="34" text-anchor="middle">(% per day)</text>
<text transform="translate(44.6 838.9) scale(0.96 1)" font-size="30.4" text-anchor="start" font-weight="bold">B</text>
<text transform="translate(690.7 1685.3) scale(0.985 1)" font-size="34.3" text-anchor="middle" font-weight="bold">months</text>
</svg>
</body></html>
